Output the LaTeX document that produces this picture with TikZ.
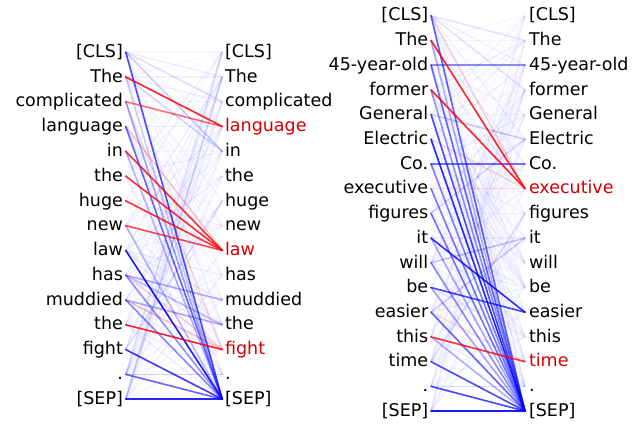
\documentclass[tikz,border=0pt]{standalone}
\usepackage{fontspec}
\setmainfont{DejaVu Sans}
\definecolor{attblue}{RGB}{0,0,255}
\definecolor{attred}{RGB}{255,0,0}
\definecolor{hilite}{RGB}{210,0,0}
\tikzset{
  tok/.style={inner xsep=2.6pt, inner ysep=0pt, text height=12.4pt, text depth=2pt,
              font={\fontsize{17.5}{21}\selectfont}},
  att/.style={line width=1.6pt, line cap=round},
  haze/.style={line width=1.3pt},
}
% one attention edge: from, to, colour, opacity
\newcommand{\attn}[4]{\draw[att, #3, opacity=#4] (#1.east) -- (#2.west);}
\begin{document}
\begin{tikzpicture}[x=1pt,y=-1pt]
\useasboundingbox (0,0) rectangle (642,423);

% ---------------- first sentence ----------------
\foreach \t/\c [count=\i from 0] in {{[CLS]}/black,The/black,complicated/black,language/black,in/black,the/black,huge/black,new/black,law/black,has/black,muddied/black,the/black,fight/black,./black,{[SEP]}/black}
  \node[tok, anchor=east, text=\c] (l\i) at (125.7, {52.1+24.79*\i}) {\t};
\foreach \t/\c [count=\i from 0] in {{[CLS]}/black,The/black,complicated/black,language/hilite,in/black,the/black,huge/black,new/black,law/hilite,has/black,muddied/black,the/black,fight/hilite,./black,{[SEP]}/black}
  \node[tok, anchor=west, text=\c] (r\i) at (222.3, {52.1+24.79*\i}) {\t};

% faint background attention
\pgfmathsetseed{11}
\foreach \i in {0,...,14}
  \foreach \j in {0,...,14} {
    \pgfmathsetmacro\o{0.075*rnd^2}
    \draw[haze, attblue, opacity=\o] (l\i.east) -- (r\j.west);
  }

% weaker edges
\attn{l0}{r4}{attblue}{0.2}
\attn{l1}{r4}{attblue}{0.15}
\attn{l0}{r2}{attblue}{0.12}
\attn{l14}{r1}{attblue}{0.18}
\attn{l13}{r0}{attblue}{0.12}
\attn{l12}{r6}{attblue}{0.12}
\attn{l9}{r10}{attblue}{0.3}
\attn{l9}{r11}{attblue}{0.25}
\attn{l10}{r11}{attblue}{0.3}
\attn{l13}{r13}{attblue}{0.2}
\attn{l2}{r12}{attred}{0.12}
\attn{l3}{r8}{attred}{0.2}
\attn{l9}{r12}{attred}{0.15}
\attn{l10}{r12}{attred}{0.22}
\attn{l1}{r14}{attblue}{0.2}
\attn{l4}{r14}{attblue}{0.3}
\attn{l7}{r14}{attblue}{0.25}
\attn{l2}{r14}{attblue}{0.35}
\attn{l9}{r14}{attblue}{0.4}
\attn{l10}{r14}{attblue}{0.45}

% strong edges
\attn{l0}{r14}{attblue}{0.7}
\attn{l3}{r14}{attblue}{0.6}
\attn{l8}{r14}{attblue}{0.9}
\attn{l12}{r14}{attblue}{0.75}
\attn{l13}{r14}{attblue}{0.6}
\attn{l14}{r14}{attblue}{0.85}
\attn{l1}{r3}{attred}{0.85}
\attn{l2}{r3}{attred}{0.55}
\attn{l4}{r8}{attred}{0.8}
\attn{l5}{r8}{attred}{0.8}
\attn{l6}{r8}{attred}{0.8}
\attn{l7}{r8}{attred}{0.7}
\attn{l11}{r12}{attred}{0.85}

% ---------------- second sentence ----------------
\foreach \t/\c [count=\i from 0] in {{[CLS]}/black,The/black,45-year-old/black,former/black,General/black,Electric/black,Co./black,executive/black,figures/black,it/black,will/black,be/black,easier/black,this/black,time/black,./black,{[SEP]}/black}
  \node[tok, anchor=east, text=\c] (a\i) at (431, {15.7+24.71*\i}) {\t};
\foreach \t/\c [count=\i from 0] in {{[CLS]}/black,The/black,45-year-old/black,former/black,General/black,Electric/black,Co./black,executive/hilite,figures/black,it/black,will/black,be/black,easier/black,this/black,time/hilite,./black,{[SEP]}/black}
  \node[tok, anchor=west, text=\c, inner xsep=3.8pt] (b\i) at (525, {15.7+24.71*\i}) {\t};

\pgfmathsetseed{23}
\foreach \i in {0,...,16}
  \foreach \j in {0,...,16} {
    \pgfmathsetmacro\o{0.07*rnd^2}
    \draw[haze, attblue, opacity=\o] (a\i.east) -- (b\j.west);
  }

% weaker edges
\attn{a0}{b1}{attblue}{0.1}
\attn{a0}{b3}{attblue}{0.1}
\attn{a4}{b5}{attblue}{0.2}
\attn{a8}{b5}{attblue}{0.15}
\attn{a10}{b9}{attblue}{0.2}
\attn{a12}{b9}{attblue}{0.18}
\attn{a14}{b8}{attblue}{0.12}
\attn{a15}{b15}{attblue}{0.15}
\attn{a0}{b7}{attred}{0.15}
\attn{a7}{b7}{attred}{0.15}
\attn{a5}{b7}{attred}{0.1}
\attn{a12}{b14}{attred}{0.12}
\attn{a1}{b16}{attblue}{0.25}
\attn{a3}{b16}{attblue}{0.4}
\attn{a9}{b16}{attblue}{0.3}
\attn{a11}{b16}{attblue}{0.35}
\attn{a13}{b16}{attblue}{0.3}
\attn{a2}{b2}{attblue}{0.45}
\attn{a6}{b6}{attblue}{0.55}

% strong edges
\attn{a0}{b16}{attblue}{0.6}
\attn{a2}{b16}{attblue}{0.6}
\attn{a4}{b16}{attblue}{0.7}
\attn{a5}{b16}{attblue}{0.85}
\attn{a6}{b16}{attblue}{0.5}
\attn{a7}{b16}{attblue}{0.5}
\attn{a8}{b16}{attblue}{0.55}
\attn{a10}{b16}{attblue}{0.45}
\attn{a12}{b16}{attblue}{0.6}
\attn{a14}{b16}{attblue}{0.7}
\attn{a15}{b16}{attblue}{0.7}
\attn{a16}{b16}{attblue}{0.9}
\attn{a9}{b12}{attblue}{0.8}
\attn{a11}{b12}{attblue}{0.7}
\attn{a1}{b7}{attred}{0.85}
\attn{a3}{b7}{attred}{0.85}
\attn{a13}{b14}{attred}{0.8}
\end{tikzpicture}
\end{document}
